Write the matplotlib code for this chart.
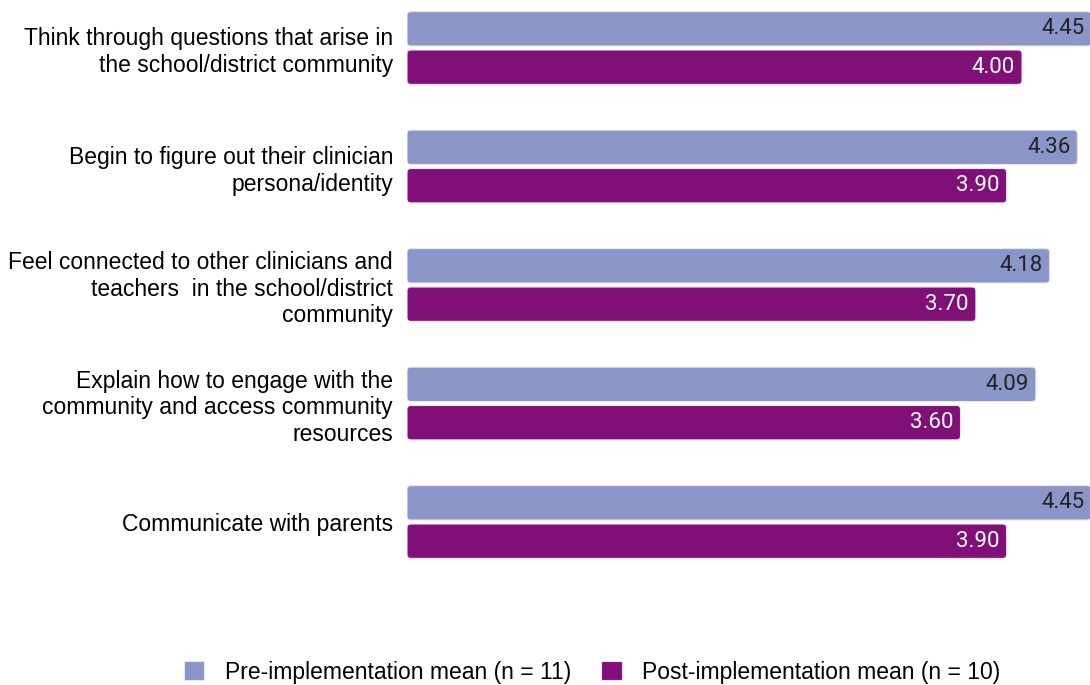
import matplotlib.pyplot as plt
from matplotlib.patches import FancyBboxPatch, Patch
import numpy as np

categories = [
    "Think through questions that arise in\nthe school/district community",
    "Begin to figure out their clinician\npersona/identity",
    "Feel connected to other clinicians and\nteachers  in the school/district\ncommunity",
    "Explain how to engage with the\ncommunity and access community\nresources",
    "Communicate with parents",
]
pre_mean = [4.45, 4.36, 4.18, 4.09, 4.45]
post_mean = [4.00, 3.90, 3.70, 3.60, 3.90]
series_names = ["Pre-implementation mean (n = 11)", "Post-implementation mean (n = 10)"]

pre_color = "#8A96C8"
post_color = "#800F77"

plt.rcParams["font.family"] = ["Liberation Sans", "DejaVu Sans"]

fig = plt.figure(figsize=(10.9, 6.85), dpi=100)
ax = fig.add_axes([407 / 1090, 1 - 600 / 685, 683 / 1090, 600 / 685])

y = np.arange(len(categories))
h = 0.29
off = 0.162

bars_pre = ax.barh(y - off, pre_mean, height=h, color=pre_color)
bars_post = ax.barh(y + off, post_mean, height=h, color=post_color)

# swap the plain rectangles for slightly rounded ones
for bars in (bars_pre, bars_post):
    for r in bars:
        r.set_visible(False)
        p = FancyBboxPatch((r.get_x(), r.get_y()), r.get_width(), r.get_height(),
                           boxstyle="round,pad=0,rounding_size=0.025",
                           mutation_aspect=153.75 / 118.5,
                           facecolor=r.get_facecolor(), edgecolor="#E8E4F0",
                           linewidth=0.8, clip_on=True)
        ax.add_patch(p)

for yi, v in zip(y, pre_mean):
    ax.text(v - 0.045, yi - off, f"{v:.2f}", ha="right", va="center",
            fontsize=16, color="#222222", family=["Roboto", "DejaVu Sans"])
for yi, v in zip(y, post_mean):
    ax.text(v - 0.045, yi + off, f"{v:.2f}", ha="right", va="center",
            fontsize=16, color="white", family=["Roboto", "DejaVu Sans"])

ax.set_xlim(0, 683 / 153.75)
ax.set_ylim(4 + 78 / 118.5, -48 / 118.5)
ax.set_yticks(y)
ax.set_yticklabels(categories, fontsize=16.5, linespacing=1.2)
ax.tick_params(axis="y", length=0, pad=10)
ax.tick_params(axis="x", bottom=False, labelbottom=False)
for s in ax.spines.values():
    s.set_visible(False)

handles = [Patch(facecolor=pre_color, edgecolor="#E8E4F0", linewidth=0.8),
           Patch(facecolor=post_color, edgecolor="#E8E4F0", linewidth=0.8)]
fig.legend(handles=handles, labels=series_names, loc="center",
           bbox_to_anchor=(592 / 1090, 1 - 672 / 685), ncol=2, frameon=False,
           fontsize=16.5, handlelength=0.9, handleheight=0.9, columnspacing=1.3,
           handletextpad=0.9)

fig.savefig("out.png", dpi=100)
